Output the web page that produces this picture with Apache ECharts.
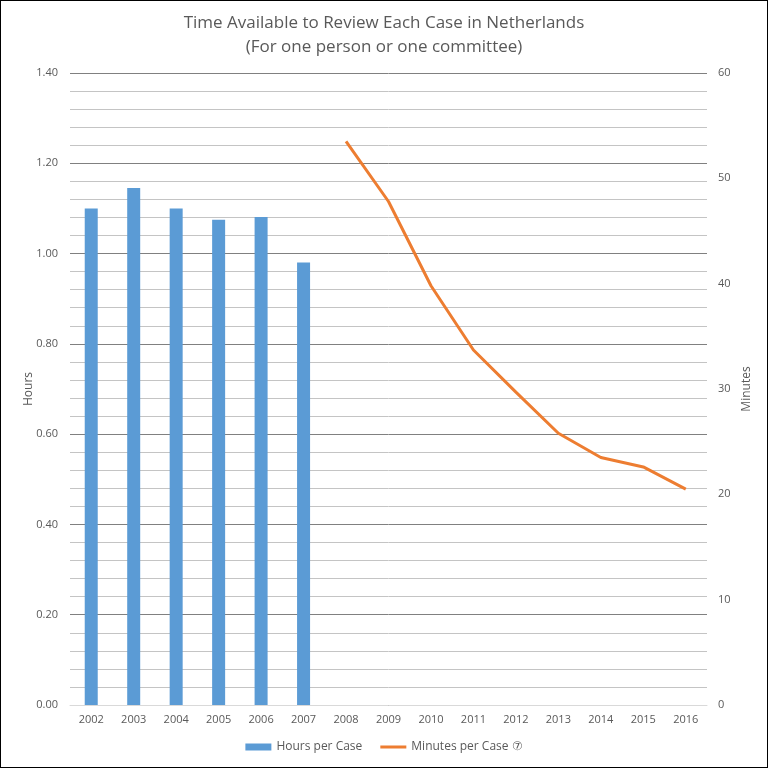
<!DOCTYPE html>
<html>
<head>
<meta charset="utf-8">
<script src="https://cdn.jsdelivr.net/npm/echarts@6/dist/echarts.min.js"></script>
<style>
html,body{margin:0;padding:0;background:#fff;}
#c{width:768px;height:768px;box-sizing:border-box;border:1px solid #000;}
</style>
</head>
<body>
<div id="c"></div>
<script>
var years = ['2002','2003','2004','2005','2006','2007','2008','2009','2010','2011','2012','2013','2014','2015','2016'];
var hoursPerCase = [1.10, 1.145, 1.10, 1.075, 1.081, 0.98, null, null, null, null, null, null, null, null, null];
var minutesPerCase = [null, null, null, null, null, null, 53.5, 47.8, 39.8, 33.7, 29.7, 25.8, 23.5, 22.6, 20.5];
var hoursTicks = [0, 1.4, 0.2];
var minutesTicks = [0, 60, 10];

var font = '"Open Sans", "Liberation Sans", sans-serif';
var chart = echarts.init(document.getElementById('c'));
chart.setOption({
  animation: false,
  backgroundColor: '#fff',
  title: {
    text: 'Time Available to Review Each Case in Netherlands\n(For one person or one committee)',
    left: 'center',
    top: 5,
    textStyle: {color: '#595959', fontSize: 17, fontWeight: 'normal', fontFamily: font, lineHeight: 24}
  },
  legend: {
    bottom: 9,
    left: 'center',
    itemWidth: 26,
    itemHeight: 7,
    itemGap: 18,
    textStyle: {color: '#595959', fontSize: 12, fontFamily: font},
    data: [
      {name: 'Hours per Case', icon: 'rect'},
      {name: 'Minutes per Case \u2466', icon: 'path://M0,0 L0,0 Z M0,2 L26,2 L26,5 L0,5 Z M0,7 L0,7 Z'}
    ]
  },
  grid: {left: 69, right: 60, top: 72, bottom: 62, containLabel: false},
  xAxis: {
    type: 'category',
    data: years,
    axisLine: {lineStyle: {color: '#d9d9d9'}},
    axisTick: {show: false},
    axisLabel: {color: '#595959', fontSize: 11, fontFamily: font, margin: 9}
  },
  yAxis: [{
    type: 'value',
    name: 'Hours',
    nameLocation: 'middle',
    nameGap: 35,
    nameMoveOverlap: false,
    nameTextStyle: {color: '#595959', fontSize: 12, fontFamily: font},
    min: hoursTicks[0], max: hoursTicks[1], interval: hoursTicks[2],
    axisLine: {show: false},
    axisTick: {show: false},
    axisLabel: {color: '#595959', fontSize: 11, fontFamily: font, margin: 12,
      formatter: function(v){return v.toFixed(2);}},
    splitLine: {show: true, lineStyle: {color: '#808080', width: 1}},
    minorTick: {show: false, splitNumber: 5},
    minorSplitLine: {show: true, lineStyle: {color: '#c4c4c4', width: 1}}
  }, {
    type: 'value',
    name: 'Minutes',
    nameLocation: 'middle',
    nameGap: 34,
    nameMoveOverlap: false,
    nameRotate: 90,
    nameTextStyle: {color: '#595959', fontSize: 12, fontFamily: font},
    min: minutesTicks[0], max: minutesTicks[1], interval: minutesTicks[2],
    axisLine: {show: false},
    axisTick: {show: false},
    axisLabel: {color: '#595959', fontSize: 11, fontFamily: font, margin: 11},
    splitLine: {show: false}
  }],
  series: [{
    name: 'Hours per Case',
    type: 'bar',
    yAxisIndex: 0,
    data: hoursPerCase,
    barWidth: 13,
    itemStyle: {color: '#5b9bd5'}
  }, {
    name: 'Minutes per Case \u2466',
    type: 'line',
    yAxisIndex: 1,
    data: minutesPerCase,
    symbol: 'none',
    connectNulls: false,
    lineStyle: {color: '#ed7d31', width: 3},
    itemStyle: {color: '#ed7d31'}
  }]
});
</script>
</body>
</html>
